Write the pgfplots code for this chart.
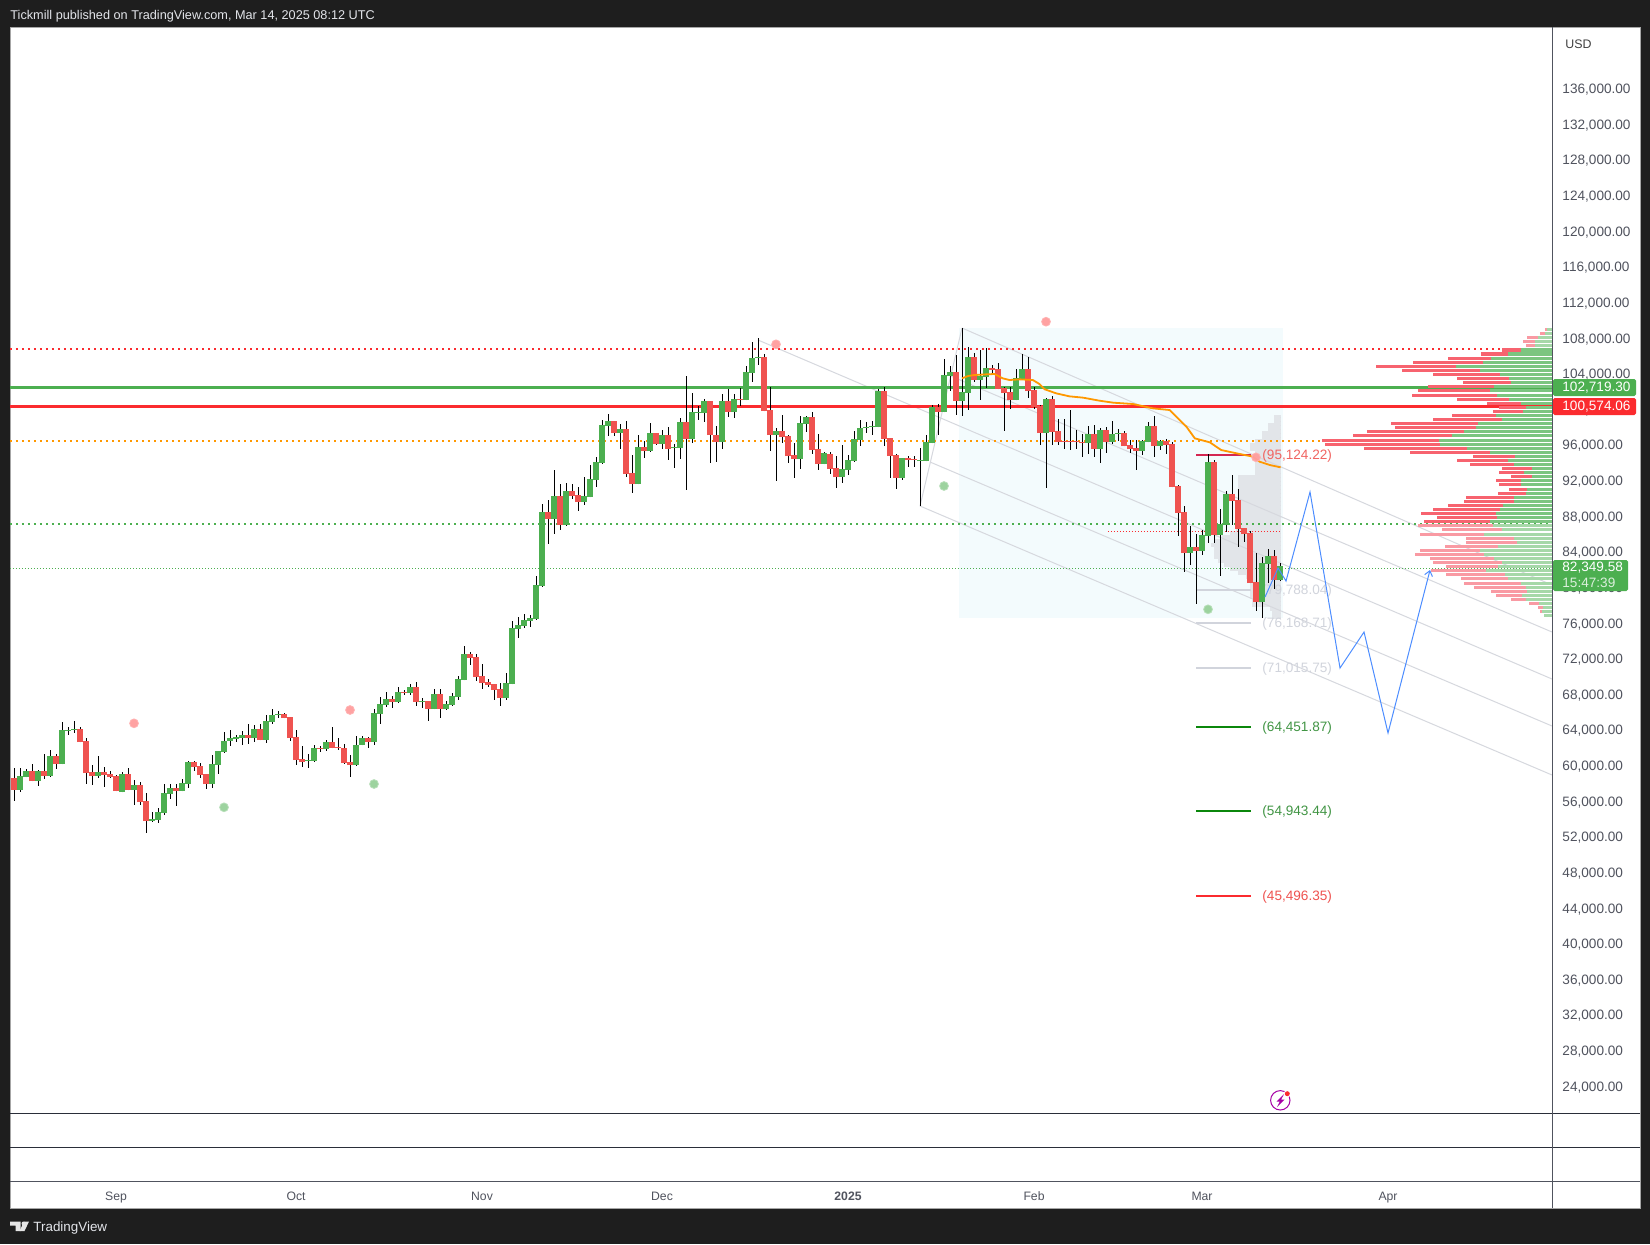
\documentclass[border=0pt]{standalone}
\usepackage{fontspec}
\setmainfont{Liberation Sans}
\usepackage{pgfplots}
\usepackage{pgfplotstable}
\pgfplotsset{compat=1.18}
\usetikzlibrary{arrows.meta}

\definecolor{bg}{HTML}{1E1E1E}
\definecolor{up}{HTML}{4CAF50}
\definecolor{down}{HTML}{EF5350}
\definecolor{hot}{HTML}{FB2B2F}
\definecolor{amber}{HTML}{FF9800}
\definecolor{tvscale}{HTML}{50535E}
\definecolor{pane}{HTML}{2A2E39}
\definecolor{chan}{HTML}{D6D8DE}
\definecolor{fibgrey}{HTML}{D1D4DC}
\definecolor{rectfill}{HTML}{F3FBFD}
\definecolor{vpgrey}{HTML}{E2E5E9}
\definecolor{vpupd}{HTML}{7CC580}
\definecolor{vpdnd}{HTML}{F7636F}
\definecolor{vpupl}{HTML}{A6D8A8}
\definecolor{vpdnl}{HTML}{F99AA3}
\definecolor{pathblue}{HTML}{4C8DFF}

% day index (0 = 1 Sep 2024), low, body bottom, body top, high
\pgfplotstableread{
d l b t h
-16 57061 57248 58820 59718
-15 58707 58707 59381 59606
-13 57697 58258 59381 59493
-11 58707 58820 61066 61739
-9 60167 60167 63985 64883
-8 63424 63910 63985 64322
-7 63648 64022 64097 64995
-3 58595 58820 59269 61066
1 57023 57023 59044 59269
3 55563 57248 57809 58371
6 53654 53767 53992 54777
7 53542 53879 54777 55226
8 54440 54665 56911 57921
9 56238 56799 57472 57921
11 57135 57135 58034 58483
12 57472 57921 60392 60505
16 57472 57921 60167 61178
17 59044 60055 61627 61627
18 61402 61515 62750 63760
19 62190 62750 63088 63985
20 62639 62975 63200 63424
21 62301 63088 63424 63873
23 62639 63088 64097 64547
25 62526 62862 64995 65670
26 64659 64883 65670 66343
27 65333 65670 65782 66119
32 59718 60505 60617 61290
33 60392 60505 61964 62301
35 61627 61852 62639 62862
40 59943 60055 62301 63312
41 62301 62301 63088 63312
43 62301 62639 65894 66343
44 64659 65782 66905 67691
45 66568 66792 67466 68252
47 67017 67129 68252 68814
49 67915 68140 68814 69150
51 66456 67129 67241 67578
53 66343 66343 68028 68589
55 66231 66343 66905 67241
56 66680 66792 67803 68140
57 67354 67691 69712 70049
58 69600 69600 72519 73417
65 67354 67578 69263 70386
66 69150 69150 75439 76223
67 74314 75325 75774 76672
68 75437 75662 76335 77009
69 75550 76223 76560 76897
70 76335 76448 80266 81276
71 80041 80153 88463 89361
73 85991 87675 90258 93177
75 86889 86999 90819 91718
78 89247 89584 90258 92391
79 90145 90145 92167 93739
80 91269 92055 94076 94637
81 93851 93964 98231 98792
82 96995 98118 98680 99466
84 95534 97332 97781 98343
87 91606 91606 95760 97108
89 95199 95311 97332 98455
91 95534 96097 97108 97669
93 93402 95648 95760 96097
94 94413 95648 98567 99017
96 96210 96659 99690 101824
97 98792 99578 99690 100364
98 98567 99578 100925 101150
101 95534 96322 100925 101712
103 99017 99690 101150 101712
105 101038 101038 104182 104856
106 103059 104070 105754 107551
107 104968 105754 105866 108000
110 91943 97108 97557 97894
114 93290 94413 98455 99241
115 97445 98343 99129 99241
118 93851 93851 95086 95199
121 91718 92391 93290 95985
122 92616 93177 94300 94862
123 94076 94188 96659 97557
124 95873 96546 97894 98792
125 97332 97894 98006 98567
126 97108 98006 98118 98680
127 98006 98006 102048 102273
131 92055 92279 94525 94525
134 89135 94188 94300 95648
135 94188 94188 96322 97108
136 96210 96210 100252 100476
138 99690 99690 103845 105642
139 102049 103733 104182 104856
141 99241 100926 101936 109123
142 99915 101824 105866 106989
144 101038 103284 103733 106652
145 102385 103621 104631 106877
150 101038 101038 103508 104519
151 103284 103396 104519 106203
155 91156 97332 101150 101263
162 94974 96210 97220 98119
164 93964 95536 97669 97894
166 96097 96322 97220 98680
167 96434 97220 97332 97781
171 94862 95311 96434 96546
172 96322 96322 98119 98568
174 95423 95873 96434 96546
179 82510 83857 84531 86890
181 83633 84082 85878 86440
182 84980 85766 94076 94974
184 81275 85878 87114 88798
185 86216 87002 90483 90819
191 76558 78355 82734 83408
192 80489 82622 83521 84307
194 80713 80826 82350 82734
}\upbars

\pgfplotstableread{
d l b t h
-17 56013 57248 58595 59718
-14 58258 58258 59381 60167
-12 58483 58820 59381 61290
-10 59606 60167 61066 61290
-6 62639 62639 64097 64322
-5 57921 59157 62750 63088
-4 57809 58820 59269 60055
-2 57585 58932 59269 59830
-1 58595 58707 59044 59381
0 57135 57135 58820 58932
2 57248 57248 59044 59718
4 55563 55900 57809 58146
5 52417 53767 56013 56911
10 55451 57135 57472 57921
13 59381 59830 60392 60505
14 58595 58932 59943 60280
15 57360 57921 59044 59044
22 62414 63088 63424 64659
24 62862 62862 64097 64659
28 65333 65333 65782 65894
29 62750 63088 65445 65445
30 60055 60617 63200 63985
31 59830 60392 60729 62190
34 61515 61852 61964 62190
36 61964 61964 62639 64322
37 61739 61964 62076 63088
38 60167 60280 61964 62414
39 58707 60055 60392 61178
42 61964 62639 63088 63200
46 66456 67129 67466 67803
48 67915 68140 68252 68477
50 66680 67129 68814 69375
52 64995 66343 67241 67241
54 65333 66343 68028 68589
59 71284 72070 72519 72744
60 69487 69936 72182 72519
61 68589 69263 70049 71396
62 68814 69038 69375 69712
63 67354 68477 69150 69150
64 66680 67578 68589 69263
72 84868 87675 88465 89809
74 86440 86999 90258 91606
76 89921 90258 90819 91606
77 88574 89584 90370 91269
83 96995 97332 98680 98680
85 92391 92728 97781 98680
86 90595 91606 92841 94862
88 94525 95311 95760 96434
90 95985 96097 97332 97332
92 94300 95534 97108 98006
95 90932 96659 98567 103733
99 93964 97108 100925 100925
100 94076 96322 97108 98118
102 99129 99690 100925 102273
104 100364 101038 101150 102385
108 99803 99803 105866 106203
109 95311 97108 99915 102498
111 96210 96883 97557 99353
112 93964 94750 96995 97108
113 92279 94413 94862 96210
116 94974 95423 99129 99690
117 93177 93851 95534 97220
119 92728 93290 94974 95199
120 91157 92391 93402 94750
128 95873 96659 102048 102498
129 92279 94750 96771 96771
130 91044 92279 94862 94974
132 93514 94300 94525 94750
133 93514 94300 94413 94750
137 97108 99690 100252 100589
140 99353 100926 104182 106091
143 103059 103284 105866 106316
146 103845 104406 104631 104968
147 102273 102273 104519 105193
148 97557 101824 102385 102498
149 100028 101038 101936 102498
152 101263 102049 104519 105866
153 100028 100252 102161 102498
154 95985 97332 100364 100476
156 95985 97445 101150 101488
157 95985 96322 97557 98905
158 95536 96322 96434 98905
159 95423 96322 96434 99915
160 95536 96322 96434 97669
161 94637 96210 96322 97220
163 94637 95536 97220 98231
165 95087 96322 97669 98006
168 95873 95873 97332 97557
169 95087 95536 95985 96546
170 93178 95311 95648 96546
173 94637 95873 98119 99241
175 94974 95985 96434 96659
176 91268 91268 96097 96322
177 85766 88349 91381 91493
178 81724 83857 88461 89135
180 78131 84082 84531 85991
183 84980 85878 94076 94301
186 87002 89696 90483 92616
187 84531 86553 89809 91044
188 85093 85991 86665 86665
189 80489 80489 86103 86328
190 77345 78355 80601 83857
193 79815 80826 83521 84195
}\downbars

% right volume profile: row price, green length, total length (in days)
\pgfplotstableread{
p g r
106652 5.2 8.3
106203 7.4 11.8
105717 10.2 17.3
105267 11.5 23.1
104818 16.0 29.4
104369 12.0 25.0
103920 8.6 19.9
103471 7.1 15.8
103022 6.8 14.9
102572 9.6 20.6
102086 10.3 22.4
101562 9.1 23.3
101113 7.2 15.9
100663 5.1 10.9
100214 4.4 8.8
99765 4.9 9.8
99316 9.4 16.6
98867 8.3 19.8
98418 12.4 26.8
97969 12.6 26.1
97520 14.6 30.9
97033 16.6 33.1
96509 18.8 38.3
96060 18.7 37.9
95610 14.1 31.3
95161 10.3 23.6
94712 6.1 13.1
94263 7.4 15.8
93814 6.3 13.6
93365 3.3 8.4
92915 4.6 8.8
92466 3.3 6.9
92017 5.2 9.3
91531 5.2 8.8
91007 4.1 7.1
90557 4.3 9.0
90108 6.4 14.4
89659 6.4 14.6
89210 8.1 17.3
88761 8.6 19.8
88312 9.4 21.8
87863 9.1 19.1
87414 10.3 21.3
}\vpdark

\pgfplotstableread{
p g r
108973 0.9 1.1
108524 1.2 2.0
108075 2.3 4.1
107625 2.9 4.8
107139 2.9 4.3
86965 9.8 22.3
86478 8.3 18.4
85954 11.3 22.0
85505 6.3 14.3
85055 5.8 14.4
84606 9.0 17.9
84157 12.0 22.0
83708 11.3 22.8
83259 9.6 20.3
82810 8.3 19.8
82360 9.0 17.6
81911 11.0 20.1
81462 7.8 17.6
80976 7.4 15.1
80451 5.1 14.6
80002 4.3 13.0
79553 4.1 10.1
79104 5.0 9.3
78655 4.4 6.9
78206 2.1 3.8
77756 1.5 2.3
77307 1.7 2.0
76858 1.4 1.4
}\vplight

% grey profile inside the shaded box: row price, length (in days)
\pgfplotstableread{
p n
99130 1.1
98681 1.1
98232 2.1
97783 2.1
97333 3.1
96884 3.1
96435 4.3
95986 5.1
95537 5.1
95088 4.3
94638 4.3
94189 4.3
93740 4.3
93291 4.3
92842 4.3
92393 7.1
91944 7.1
91495 7.1
91045 7.1
90596 7.1
90147 7.1
89698 7.1
89249 7.1
88800 7.1
88351 7.1
87902 7.1
87453 7.1
87004 7.4
86555 7.4
86105 8.4
85656 9.8
85207 11.0
84758 11.6
84309 11.1
83860 11.1
83411 11.1
82962 10.4
82512 9.4
82063 8.4
81614 7.1
81165 5.8
80716 5.1
80267 5.1
79818 5.1
79369 5.1
78919 5.1
78470 4.8
78021 4.8
77572 1.8
77123 1.5
76674 1.5
}\vpbox

\pgfplotsset{
  nomark/.style={forget plot, only marks, mark size=0pt, mark options={draw=none, fill=none}},
  wickup/.style={nomark,
    error bars/.cd, y dir=plus, y explicit, error mark=none,
    error bar style={black, line width=0.5pt}},
  wickdn/.style={nomark,
    error bars/.cd, y dir=minus, y explicit, error mark=none,
    error bar style={black, line width=0.5pt}},
  bodies/.style={nomark,
    error bars/.cd, y dir=plus, y explicit, error mark=none,
    error bar style={#1, line width=2.6pt}},
  rows/.style 2 args={nomark,
    error bars/.cd, x dir=minus, x explicit, error mark=none,
    error bar style={#1, line width=#2}},
}
\newcommand{\fiblabel}[3]{\node[anchor=west, inner sep=0pt, yshift=-0.5pt, text=#3, font=\fontsize{6.8}{8}\selectfont] at (axis cs:191,#1) {(#2)};}

\begin{document}
\begin{tikzpicture}[x=0.5pt, y=-0.5pt]
\useasboundingbox (0,0) rectangle (1650,1244);
\fill[bg] (0,0) rectangle (1650,1244);
\fill[white] (10,27) rectangle (1640,1208);
\draw[gray!70, line width=0.5pt] (10,27) rectangle (1640,1208);

\begin{axis}[
  at={(5pt,-604pt)}, anchor=south west,
  scale only axis, width=771pt, height=590.5pt,
  xmin=-17.67, xmax=239.33,
  ymin=10316, ymax=142919,
  axis line style={draw=none},
  tick style={draw=none},
  major tick length=0pt,
  xtick={0,30,61,91,122,153,181,212},
  xticklabels={Sep,Oct,Nov,Dec,\textbf{2025},Feb,Mar,Apr},
  xticklabel style={anchor=base, yshift=4pt, text=tvscale, font=\fontsize{6.1}{7}\selectfont},
  ytick={24000,28000,...,136000},
  yticklabel pos=right,
  yticklabel style={text=tvscale, font=\fontsize{6.8}{8}\selectfont, xshift=1.7pt, yshift=-0.6pt},
  scaled y ticks=false,
  /pgf/number format/.cd, fixed, fixed zerofill, precision=2, 1000 sep={,}, assume math mode=true,
]

% shaded box of the fixed range profile
\addplot[forget plot, draw=none, fill=rectfill] coordinates {(140.5,76562)(194.5,76562)(194.5,109123)(140.5,109123)} -- cycle;
\addplot[rows={vpgrey}{1.7pt}] table[x expr=194.12, y=p, x error minus=n] {\vpbox};

% pitchfork lines
\addplot[forget plot, chan, line width=0.5pt] coordinates {(134,89137)(141,109123)};
\addplot[forget plot, chan, line width=0.5pt] coordinates {(141,109123)(239.33,80267)};
\addplot[forget plot, chan, line width=0.5pt] coordinates {(139.1,103733)(239.33,74990)};
\addplot[forget plot, chan, line width=0.5pt] coordinates {(107,107775)(239.33,69712)};
\addplot[forget plot, chan, line width=0.5pt] coordinates {(135.67,94077)(239.33,64435)};
\addplot[forget plot, chan, line width=0.5pt] coordinates {(134,89137)(239.33,58934)};

% horizontal levels
\addplot[forget plot, hot, dash pattern=on 1pt off 2pt, line width=0.9pt] coordinates {(-17.67,106765)(239.33,106765)};
\addplot[forget plot, amber, dash pattern=on 1pt off 2pt, line width=0.9pt] coordinates {(-17.67,96434)(239.33,96434)};
\addplot[forget plot, up, dash pattern=on 1pt off 2pt, line width=0.9pt] coordinates {(-17.67,87113)(239.33,87113)};
\addplot[forget plot, up, dash pattern=on 0.5pt off 1pt, line width=0.5pt] coordinates {(-17.67,82142)(239.33,82142)};
\addplot[forget plot, hot, dash pattern=on 0.5pt off 1pt, line width=0.45pt] coordinates {(165.3,86330)(194.3,86330)};
\addplot[forget plot, up, line width=1.6pt] coordinates {(-17.67,102465)(239.33,102465)};
\addplot[forget plot, hot, line width=1.6pt] coordinates {(-17.67,100331)(239.33,100331)};

% fib levels
\addplot[forget plot, fibgrey, line width=1pt] coordinates {(180,79700)(189.2,79700)};
\addplot[forget plot, fibgrey, line width=1pt] coordinates {(180,76000)(189.2,76000)};
\addplot[forget plot, fibgrey, line width=1pt] coordinates {(180,70900)(189.2,70900)};
\addplot[forget plot, green!50!black!85!up, line width=1pt] coordinates {(180,64350)(189.2,64350)};
\addplot[forget plot, green!50!black!85!up, line width=1pt] coordinates {(180,54850)(189.2,54850)};
\addplot[forget plot, hot, line width=1pt] coordinates {(180,45400)(189.2,45400)};
\addplot[forget plot, red!80!blue!85!white, line width=1pt] coordinates {(180,94900)(189.2,94900)};
\fiblabel{94900}{95,124.22}{down!90!white}
\fiblabel{79700}{79,788.04}{fibgrey}
\fiblabel{76000}{76,168.71}{fibgrey}
\fiblabel{70900}{71,015.75}{fibgrey}
\fiblabel{64350}{64,451.87}{up!85!black}
\fiblabel{54850}{54,943.44}{up!85!black}
\fiblabel{45400}{45,496.35}{down}

% right profile
\addplot[rows={vpdnd}{1.65pt}] table[x expr=239.33, y=p, x error minus=r] {\vpdark};
\addplot[rows={vpupd}{1.65pt}] table[x expr=239.33, y=p, x error minus=g] {\vpdark};
\addplot[rows={vpdnl}{1.65pt}] table[x expr=239.33, y=p, x error minus=r] {\vplight};
\addplot[rows={vpupl}{1.65pt}] table[x expr=239.33, y=p, x error minus=g] {\vplight};

% candles: wicks above and below the body, then the body
\addplot[wickup] table[x=d, y=t, y error plus expr=\thisrow{h}-\thisrow{t}] {\upbars};
\addplot[wickdn] table[x=d, y=b, y error minus expr=\thisrow{b}-\thisrow{l}] {\upbars};
\addplot[wickup] table[x=d, y=t, y error plus expr=\thisrow{h}-\thisrow{t}] {\downbars};
\addplot[wickdn] table[x=d, y=b, y error minus expr=\thisrow{b}-\thisrow{l}] {\downbars};
\addplot[bodies={up}] table[x=d, y=b, y error plus expr=\thisrow{t}-\thisrow{b}] {\upbars};
\addplot[bodies={down}] table[x=d, y=b, y error plus expr=\thisrow{t}-\thisrow{b}] {\downbars};

% moving average
\addplot[forget plot, amber, line width=0.9pt] coordinates {
(141,103471)(142,103733)(143.1,103845)(145.05,103920)(146.4,103958)(147.8,103471)
(148.9,103284)(150.6,103359)(152.8,103284)(153.9,102835)(154.8,102236)(156.7,101787)
(158.9,101450)(161.2,101300)(163.9,100963)(166.2,100738)(169.5,100589)(172.8,100102)
(175.6,99915)(176.7,99167)(178.4,98043)(179.8,96733)(182.3,96284)(184.2,95423)
(187.3,94974)(189.5,94675)(190.6,94113)(192.3,93739)(194.1,93477)};

% projected path
\addplot[forget plot, pathblue, line width=0.5pt, -{Straight Barb[length=2.5pt,width=4pt]}] coordinates {
(191.5,78920)(193.67,82176)(195,80716)(199,90709)(204,70948)(208,74990)(212,63649)(219,81951)};

% signal dots
\addplot[forget plot, only marks, mark=*, mark size=2.2pt, mark options={fill=red!38, draw=red!30, fill opacity=0.95}] coordinates {
(3,64738)(39,66232)(110,107293)(155,109830)(190,94605)};
\addplot[forget plot, only marks, mark=*, mark size=2.2pt, mark options={fill=up!55, draw=up!40}] coordinates {
(18,55307)(43,57923)(138,91383)(182,77538)};
\end{axis}

% pane separators and price scale edge
\draw[pane, line width=0.5pt] (10,1113) -- (1640,1113);
\draw[pane, line width=0.5pt] (10,1147) -- (1640,1147);
\draw[tvscale, line width=0.5pt] (10,1181) -- (1640,1181);
\draw[tvscale, line width=0.5pt] (1552,27) -- (1552,1208);

% value tags
\fill[up, rounded corners=0.8pt] (1553,379) rectangle (1636,396);
\node[text=white, font=\fontsize{6.8}{8}\selectfont, anchor=west, inner sep=0pt] at (1562,387.5) {102,719.30};
\fill[hot, rounded corners=0.8pt] (1553,398) rectangle (1636,415);
\node[text=white, font=\fontsize{6.8}{8}\selectfont, anchor=west, inner sep=0pt] at (1562,406.5) {100,574.06};
\fill[up, rounded corners=0.8pt] (1553,560) rectangle (1628,591);
\node[text=white, font=\fontsize{6.8}{8}\selectfont, anchor=west, inner sep=0pt] at (1562,568) {82,349.58};
\node[text=white!80!up, font=\fontsize{6.8}{8}\selectfont, anchor=west, inner sep=0pt] at (1562,582.5) {15:47:39};
\node[text=black!75, font=\fontsize{6.2}{8}\selectfont, anchor=west, inner sep=0pt] at (1565,44) {USD};

% header and footer
\node[text=fibgrey!60!white, font=\fontsize{6.35}{7}\selectfont, anchor=west, inner sep=0pt] at (10,16.5) {Tickmill published on TradingView.com, Mar 14, 2025 08:12 UTC};
\fill[white!90!black] (10,1221.5) -- (20.5,1221.5) -- (20.5,1231) -- (15.5,1231) -- (15.5,1225.5) -- (10,1225.5) -- cycle;
\fill[white!90!black] (23.5,1223.5) circle[radius=2];
\fill[white!90!black] (29,1221.5) -- (24.5,1231) -- (19.5,1231) -- (24,1221.5) -- cycle;
\node[text=fibgrey!60!white, font=\fontsize{6.7}{8}\selectfont, anchor=west, inner sep=0pt] at (33,1228.5) {TradingView};

% news icon
\draw[violet!70!magenta, line width=0.5pt] (1280.3,1100.3) circle[radius=9.7];
\fill[violet!70!magenta] (1284,1094) -- (1276.5,1101.5) -- (1279.8,1101.5) -- (1277,1107) -- (1284.5,1099.5) -- (1281.2,1099.5) -- cycle;
\fill[white] (1287.3,1093.7) circle[radius=3.6];
\fill[hot] (1287.3,1093.7) circle[radius=2.5];
\end{tikzpicture}
\end{document}
